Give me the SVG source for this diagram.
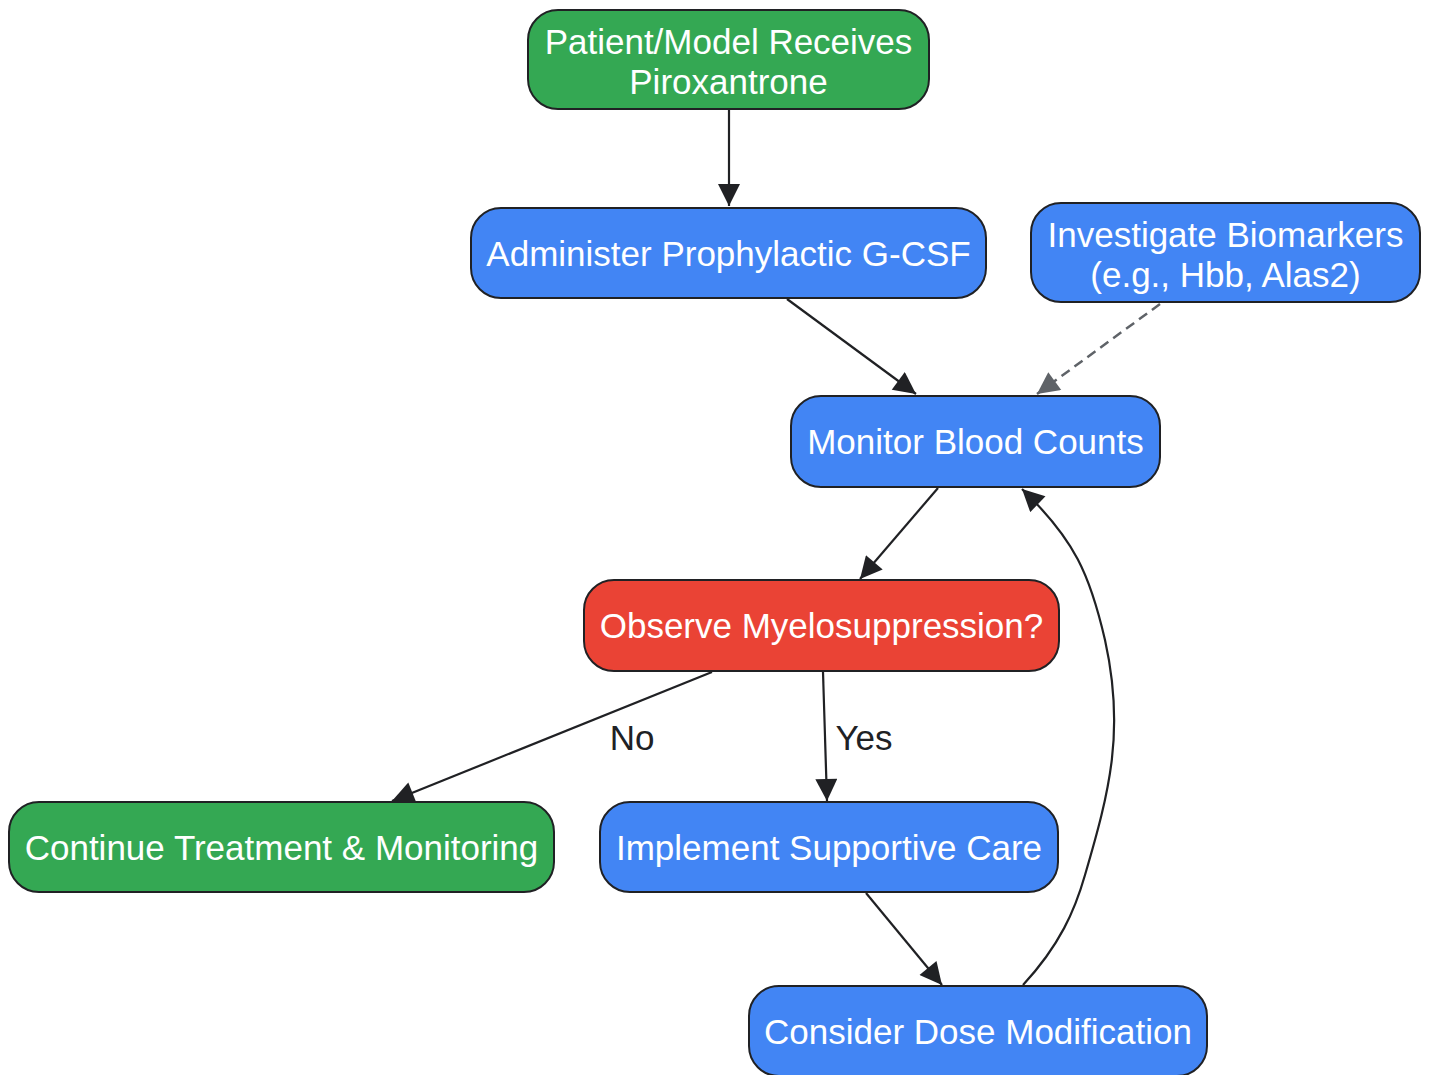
<svg xmlns="http://www.w3.org/2000/svg" width="1430" height="1075" viewBox="0 0 1430 1075">
<defs>
<marker id="ah" viewBox="0 0 10 10" refX="10" refY="5" markerWidth="24" markerHeight="22" markerUnits="userSpaceOnUse" orient="auto"><path d="M0,0 L10,5 L0,10 z" fill="#202124"/></marker>
<marker id="ahg" viewBox="0 0 10 10" refX="10" refY="5" markerWidth="24" markerHeight="22" markerUnits="userSpaceOnUse" orient="auto"><path d="M0,0 L10,5 L0,10 z" fill="#5F6368"/></marker>
<style>
.n rect{stroke:#202124;stroke-width:2}
.g rect{fill:#34A853}
.b rect{fill:#4285F4}
.r rect{fill:#EA4335}
.n text{font-family:"Liberation Sans",Arial,sans-serif;font-size:35px;fill:#ffffff;text-anchor:middle}
.e{fill:none;stroke:#202124;stroke-width:2.2;marker-end:url(#ah)}
.d{fill:none;stroke:#5F6368;stroke-width:2.5;stroke-dasharray:10,6;marker-end:url(#ahg)}
.l{font-family:"Liberation Sans",Arial,sans-serif;font-size:35px;fill:#202124;text-anchor:middle}
</style>
</defs>
<rect width="1430" height="1075" fill="#ffffff"/>
<g id="connectors">
<path class="e" d="M729,110 L729,206"/>
<path class="e" d="M787,299 L916,394"/>
<path class="d" d="M1160,304 L1037,394"/>
<path class="e" d="M938,488 L860,579"/>
<path class="e" d="M712,672 L392,801"/>
<path class="e" d="M823,672 L827,801"/>
<path class="e" d="M866,893 L942,985"/>
<path class="e" d="M1023,985 C1060,945 1075,910 1085,875 C1110,790 1125,730 1105,640 C1090,575 1075,540 1022,489"/>
<text class="l" x="632" y="750">No</text>
<text class="l" x="864" y="750">Yes</text>
</g>
<g id="n1" class="n g"><rect x="528" y="10" width="401" height="99" rx="30"/><text x="728.5" y="54">Patient/Model Receives</text><text x="728.5" y="94">Piroxantrone</text></g>
<g id="n2" class="n b"><rect x="471" y="208" width="515" height="90" rx="30"/><text x="728.5" y="266">Administer Prophylactic G-CSF</text></g>
<g id="n3" class="n b"><rect x="1031" y="203" width="389" height="99" rx="30"/><text x="1225.5" y="247">Investigate Biomarkers</text><text x="1225.5" y="287">(e.g., Hbb, Alas2)</text></g>
<g id="n4" class="n b"><rect x="791" y="396" width="369" height="91" rx="30"/><text x="975.5" y="454">Monitor Blood Counts</text></g>
<g id="n5" class="n r"><rect x="584" y="580" width="475" height="91" rx="30"/><text x="821.5" y="638">Observe Myelosuppression?</text></g>
<g id="n6" class="n g"><rect x="9" y="802" width="545" height="90" rx="30"/><text x="281.5" y="860">Continue Treatment &amp; Monitoring</text></g>
<g id="n7" class="n b"><rect x="600" y="802" width="458" height="90" rx="30"/><text x="829" y="860">Implement Supportive Care</text></g>
<g id="n8" class="n b"><rect x="749" y="986" width="458" height="90" rx="30"/><text x="978" y="1044">Consider Dose Modification</text></g>
</svg>
